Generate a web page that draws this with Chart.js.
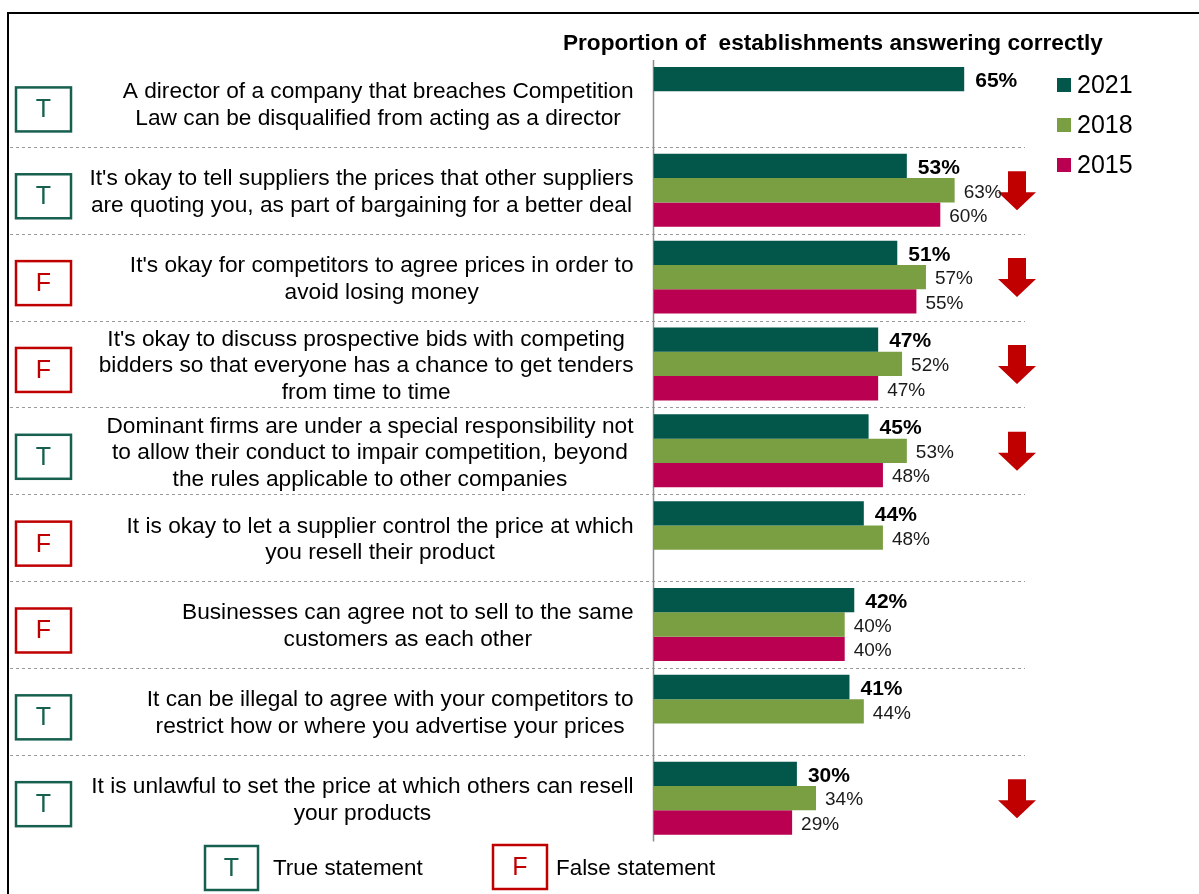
<!DOCTYPE html>
<html>
<head>
<meta charset="utf-8">
<title>Competition law awareness</title>
<script src="https://cdn.jsdelivr.net/npm/chart.js@4.4.1/dist/chart.umd.min.js"></script>
<style>
    body { margin: 0; background: #ffffff; }
    #chartBox { position: relative; width: 1199px; height: 894px; }
</style>
</head>
<body>
<div id="chartBox">
    <canvas id="awarenessChart" width="1199" height="894"></canvas>
</div>
<script>
// Statements shown to establishments (one array entry per line of text)
const statements = [
    ["A director of a company that breaches Competition", "Law can be disqualified from acting as a director"],
    ["It's okay to tell suppliers the prices that other suppliers", "are quoting you, as part of bargaining for a better deal"],
    ["It's okay for competitors to agree prices in order to", "avoid losing money"],
    ["It's okay to discuss prospective bids with competing", "bidders so that everyone has a chance to get tenders", "from time to time"],
    ["Dominant firms are under a special responsibility not", "to allow their conduct to impair competition, beyond", "the rules applicable to other companies"],
    ["It is okay to let a supplier control the price at which", "you resell their product"],
    ["Businesses can agree not to sell to the same", "customers as each other"],
    ["It can be illegal to agree with your competitors to", "restrict how or where you advertise your prices"],
    ["It is unlawful to set the price at which others can resell", "your products"]
];
const statementType = ["T", "T", "F", "F", "T", "F", "F", "T", "T"];

// % answering correctly, by survey year (null = not asked that year)
const years = ["2021", "2018", "2015"];
const values2021 = [65, 53, 51, 47, 45, 44, 42, 41, 30];
const values2018 = [null, 63, 57, 52, 53, 48, 40, 44, 34];
const values2015 = [null, 60, 55, 47, 48, null, 40, null, 29];

// statements where 2021 is significantly lower than before
const significantDrop = [false, true, true, true, true, false, false, false, true];

const chartTitle = "Proportion of  establishments answering correctly";
const keyLabels = { T: "True statement", F: "False statement" };

const yearColours = ["#03564a", "#7a9f43", "#ba0050"];
const trueColour = "#17604f";
const falseColour = "#c00000";
const fontFamily = '"Liberation Sans", Arial, sans-serif';


function drawLetterBox(ctx, letter, x, y, w, h) {
    const colour = letter === "T" ? trueColour : falseColour;
    ctx.save();
    ctx.strokeStyle = colour;
    ctx.lineWidth = 2.5;
    ctx.strokeRect(x, y, w, h);
    ctx.fillStyle = colour;
    ctx.font = "25px " + fontFamily;
    ctx.textAlign = "center";
    ctx.textBaseline = "middle";
    ctx.fillText(letter, x + w / 2, y + h / 2 + 1);
    ctx.restore();
}

function drawDownArrow(ctx, cx, cy) {
    ctx.save();
    ctx.fillStyle = falseColour;
    ctx.beginPath();
    ctx.moveTo(cx - 9, cy - 19);
    ctx.lineTo(cx + 9, cy - 19);
    ctx.lineTo(cx + 9, cy + 2);
    ctx.lineTo(cx + 19, cy + 2);
    ctx.lineTo(cx, cy + 20);
    ctx.lineTo(cx - 19, cy + 2);
    ctx.lineTo(cx - 9, cy + 2);
    ctx.closePath();
    ctx.fill();
    ctx.restore();
}

// Multi-line statement: lines centred on each other, block right-aligned to the axis
function drawStatement(ctx, lines, rightX, cy) {
    ctx.save();
    ctx.font = "22.7px " + fontFamily;
    ctx.fillStyle = "#000000";
    ctx.textAlign = "center";
    ctx.textBaseline = "middle";
    const blockWidth = Math.max(...lines.map(l => ctx.measureText(l).width));
    const centreX = rightX - blockWidth / 2;
    const lineHeight = 26.5;
    const firstY = cy + 2 - (lines.length - 1) * lineHeight / 2;
    lines.forEach((line, i) => ctx.fillText(line, centreX, firstY + i * lineHeight));
    ctx.restore();
}

const backgroundPlugin = {
    id: "pageFrame",
    beforeDraw(chart) {
        const ctx = chart.ctx;
        ctx.save();
        ctx.fillStyle = "#ffffff";
        ctx.fillRect(0, 0, chart.width, chart.height);

        // outer frame (top and left edges)
        ctx.strokeStyle = "#000000";
        ctx.lineWidth = 2;
        ctx.beginPath();
        ctx.moveTo(8, chart.height);
        ctx.lineTo(8, 13);
        ctx.lineTo(chart.width, 13);
        ctx.stroke();

        // title
        ctx.fillStyle = "#000000";
        ctx.font = "bold 22.6px " + fontFamily;
        ctx.textAlign = "left";
        ctx.textBaseline = "middle";
        ctx.fillText(chartTitle, 563, 44);
        ctx.restore();
    }
};

const statementPlugin = {
    id: "statementRows",
    beforeDatasetsDraw(chart) {
        const ctx = chart.ctx;
        const area = chart.chartArea;
        const yScale = chart.scales.y;
        const xScale = chart.scales.x;
        const zeroX = xScale.getPixelForValue(0);

        // dashed separators between statements
        ctx.save();
        ctx.strokeStyle = "#9a9a9a";
        ctx.lineWidth = 1;
        ctx.setLineDash([3, 3]);
        for (let i = 0; i < statements.length - 1; i++) {
            const y = Math.round((yScale.getPixelForValue(i) + yScale.getPixelForValue(i + 1)) / 2) + 0.5;
            ctx.beginPath();
            ctx.moveTo(10, y);
            ctx.lineTo(1025, y);
            ctx.stroke();
        }
        ctx.restore();

        // vertical axis line
        ctx.save();
        ctx.strokeStyle = "#8c8c8c";
        ctx.lineWidth = 1.5;
        ctx.beginPath();
        ctx.moveTo(zeroX, area.top);
        ctx.lineTo(zeroX, area.bottom);
        ctx.stroke();
        ctx.restore();

        statements.forEach((lines, i) => {
            const cy = yScale.getPixelForValue(i);
            drawStatement(ctx, lines, zeroX - 20, cy);
            drawLetterBox(ctx, statementType[i], 16, cy + 6 - 22, 55, 44);
            if (significantDrop[i]) {
                drawDownArrow(ctx, 1017, cy);
            }
        });
    },
    afterDatasetsDraw(chart) {
        const ctx = chart.ctx;
        ctx.save();
        ctx.textAlign = "left";
        ctx.textBaseline = "middle";
        chart.data.datasets.forEach((ds, d) => {
            const meta = chart.getDatasetMeta(d);
            meta.data.forEach((bar, i) => {
                const v = ds.data[i];
                if (v === null) return;
                if (d === 0) {
                    ctx.font = "bold 21px " + fontFamily;
                    ctx.fillStyle = "#000000";
                    ctx.fillText(v + "%", bar.x + 11, bar.y + 2);
                } else {
                    ctx.font = "19px " + fontFamily;
                    ctx.fillStyle = "#1a1a1a";
                    ctx.fillText(v + "%", bar.x + 9, bar.y + 2);
                }
            });
        });
        ctx.restore();
    },
    afterDraw(chart) {
        const ctx = chart.ctx;

        // year legend, top right
        ctx.save();
        ctx.font = "25px " + fontFamily;
        ctx.textAlign = "left";
        ctx.textBaseline = "middle";
        chart.data.datasets.forEach((ds, d) => {
            const y = 85 + d * 40;
            ctx.fillStyle = ds.backgroundColor;
            ctx.fillRect(1057, y - 7, 14, 14);
            ctx.fillStyle = "#000000";
            ctx.fillText(ds.label, 1077, y + 1);
        });
        ctx.restore();

        // key for the letter boxes
        drawLetterBox(ctx, "T", 205, 846, 53, 44);
        drawLetterBox(ctx, "F", 493, 845, 54, 44);
        ctx.save();
        ctx.font = "22.4px " + fontFamily;
        ctx.fillStyle = "#000000";
        ctx.textAlign = "left";
        ctx.textBaseline = "middle";
        ctx.fillText(keyLabels.T, 273, 869);
        ctx.fillText(keyLabels.F, 556, 869);
        ctx.restore();
    }
};

const seriesValues = [values2021, values2018, values2015];

const ctx = document.getElementById("awarenessChart").getContext("2d");
const awarenessChart = new Chart(ctx, {
    type: "bar",
    data: {
        labels: statements,
        datasets: years.map((year, d) => ({
            label: year,
            data: seriesValues[d],
            backgroundColor: yearColours[d],
            borderWidth: 0,
            categoryPercentage: 0.84,
            barPercentage: 1.0
        }))
    },
    options: {
        indexAxis: "y",
        responsive: false,
        animation: false,
        layout: {
            padding: { left: 653.5, right: 67.5, top: 60, bottom: 52.4 }
        },
        scales: {
            x: { display: false, min: 0, max: 100 },
            y: { display: false }
        },
        plugins: {
            legend: { display: false },
            tooltip: { enabled: false }
        }
    },
    plugins: [backgroundPlugin, statementPlugin]
});
</script>
</body>
</html>
